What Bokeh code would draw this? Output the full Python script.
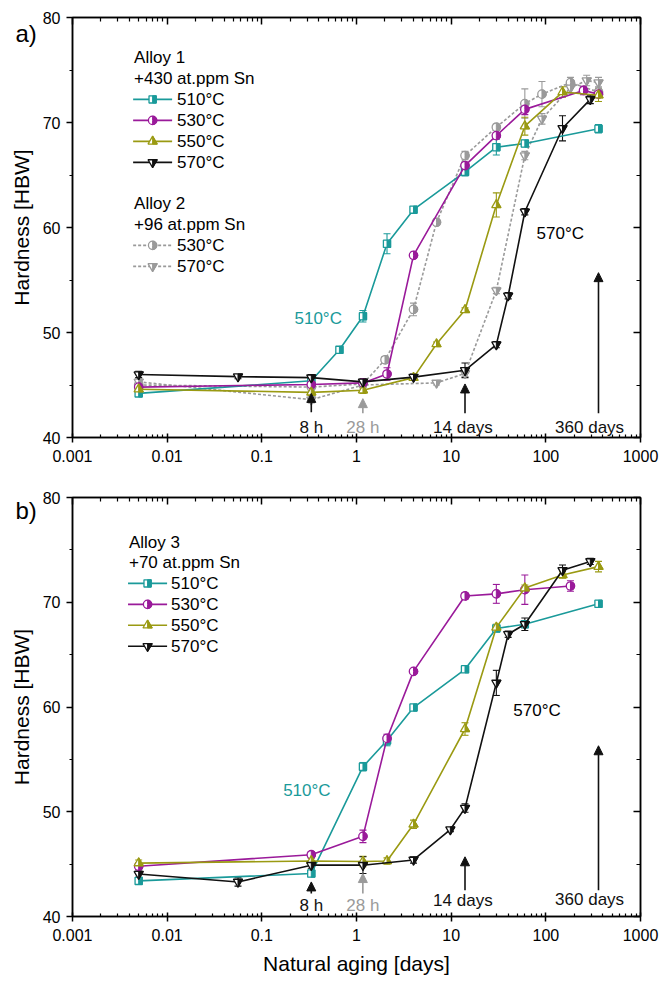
import math
from bokeh.plotting import figure
from bokeh.models import (LogAxis, LinearAxis, Label, Arrow, NormalHead, Whisker,
                          ColumnDataSource, FixedTicker, Range1d, TeeHead,
                          CustomJSTickFormatter)
from bokeh.layouts import column
from bokeh.embed import file_html
from bokeh.resources import INLINE

# ---------------- data (days, HBW, error) ----------------
# Panel a, Alloy 1 (+430 at.ppm Sn)
a_t510 = [0.005, 0.333, 0.66, 1.17, 2.1, 4, 14, 30, 60, 360]
a_h510 = [44.2, 45.4, 48.35, 51.55, 58.45, 61.7, 65.3, 67.65, 68.0, 69.4]
a_e510 = [0.3, 0.3, 0.2, 0.55, 0.95, 0.3, 0.4, 0.75, 0.3, 0.4]

a_t530 = [0.005, 0.333, 1.17, 2.1, 4, 14, 30, 60, 250, 360]
a_h530 = [44.8, 45.05, 45.2, 46.05, 57.35, 65.9, 68.75, 71.25, 73.05, 72.7]
a_e530 = [0.3, 0.3, 0.3, 0.6, 0.3, 0.3, 0.3, 0.5, 0.4, 0.3]

a_t550 = [0.005, 0.333, 1.17, 4, 7, 14, 30, 60, 150, 360]
a_h550 = [44.6, 44.3, 44.5, 45.7, 48.9, 52.15, 62.15, 69.65, 72.9, 72.6]
a_e550 = [0.3, 0.3, 0.3, 0.2, 0.2, 0.2, 1.15, 0.85, 0.5, 0.6]

a_t570 = [0.005, 0.056, 0.333, 1.17, 4, 14, 30, 40, 60, 150, 295]
a_h570 = [46.0, 45.8, 45.7, 45.3, 45.75, 46.4, 48.85, 53.5, 61.5, 69.45, 72.2]
a_e570 = [0.3, 0.2, 0.3, 0.3, 0.3, 0.7, 0.3, 0.3, 0.3, 1.2, 0.4]

# Panel a, Alloy 2 (+96 at.ppm Sn)
a2_t530 = [0.005, 0.333, 1.17, 2.0, 4, 7, 14, 30, 60, 91, 182, 360]
a2_h530 = [45.0, 44.8, 45.1, 47.4, 52.2, 60.5, 66.85, 69.55, 71.8, 72.7, 73.8, 72.9]
a2_e530 = [0.3, 0.3, 0.3, 0.3, 0.6, 0.3, 0.4, 0.3, 1.4, 1.2, 0.5, 0.5]

a2_t570 = [0.005, 0.333, 1.17, 7, 14, 30, 60, 91, 182, 270, 360]
a2_h570 = [45.3, 43.6, 45.0, 45.2, 46.1, 54.0, 66.85, 70.35, 73.3, 74.0, 73.8]
a2_e570 = [0.3, 0.3, 0.3, 0.2, 0.3, 0.3, 0.4, 0.5, 0.5, 0.5, 0.5]

# Panel b, Alloy 3 (+70 at.ppm Sn)
b_t510 = [0.005, 0.333, 1.17, 2.1, 4, 14, 30, 60, 360]
b_h510 = [43.4, 44.1, 54.3, 56.8, 59.95, 63.6, 67.5, 67.9, 69.85]
b_e510 = [0.2, 0.3, 0.4, 0.5, 0.2, 0.2, 0.3, 0.3, 0.2]

b_t530 = [0.005, 0.333, 1.17, 2.1, 4, 14, 30, 60, 182]
b_h530 = [44.8, 45.9, 47.65, 57.0, 63.4, 70.6, 70.8, 71.2, 71.55]
b_e530 = [0.3, 0.3, 0.6, 0.4, 0.2, 0.3, 0.9, 1.4, 0.5]

b_t550 = [0.005, 0.333, 1.17, 2.1, 4, 14, 30, 60, 150, 360]
b_h550 = [45.1, 45.3, 45.25, 45.3, 48.8, 57.9, 67.6, 71.35, 72.6, 73.4]
b_e550 = [0.3, 0.3, 0.5, 0.3, 0.4, 0.6, 0.3, 0.3, 0.3, 0.5]

b_t570 = [0.005, 0.056, 0.333, 1.17, 4, 9.8, 14, 30, 40, 60, 150, 295]
b_h570 = [44.05, 43.3, 44.9, 44.9, 45.4, 48.3, 50.35, 62.3, 66.95, 67.9, 73.05, 73.9]
b_e570 = [0.3, 0.4, 0.3, 0.8, 0.3, 0.2, 0.4, 1.2, 0.3, 0.6, 0.5, 0.3]

x_ticks = [0.001, 0.01, 0.1, 1, 10, 100, 1000]
y_ticks = [40, 50, 60, 70, 80]
y_minor = [45, 55, 65, 75]
temps = ["510°C", "530°C", "550°C", "570°C"]
arrow_days = [0.333, 1.167, 14, 360]
arrow_texts = ["8 h", "28 h", "14 days", "360 days"]

# ---------------- style ----------------
TEAL = "#1a9a9a"
PURPLE = "#9a1a9a"
OLIVE = "#9a9a12"
BLACK = "#111111"
GRAY = "#9a9a9a"
FONT = "Liberation Sans"

FIG_W = 662
B_LEFT, B_RIGHT = 72, 22
FRAME_W = FIG_W - B_LEFT - B_RIGHT
DEC_PX = FRAME_W / 6.0

x_minor = [m * 10 ** e for e in range(-3, 3) for m in range(2, 10)]


def make_panel(height, b_top, b_bottom, xlabel):
    p = figure(width=FIG_W, height=height, x_axis_type="log",
               x_range=Range1d(0.001, 1000), y_range=Range1d(40, 80),
               output_backend="svg", toolbar_location=None,
               min_border_left=B_LEFT, min_border_right=B_RIGHT,
               min_border_top=b_top, min_border_bottom=b_bottom)
    p.grid.visible = False
    p.outline_line_color = "black"
    p.outline_line_width = 1.5
    p.background_fill_color = "white"
    p.border_fill_color = "white"
    xt = FixedTicker(ticks=x_ticks, minor_ticks=x_minor)
    yt = FixedTicker(ticks=y_ticks, minor_ticks=y_minor)
    xa = p.xaxis[0]
    xa.ticker = xt
    xa.formatter = CustomJSTickFormatter(code="return String(tick)")
    xa.major_tick_in, xa.major_tick_out = 4, 5
    xa.minor_tick_in, xa.minor_tick_out = 3, 0
    xa.major_label_standoff = 7
    ya = p.yaxis[0]
    ya.ticker = yt
    ya.major_tick_in, ya.major_tick_out = 0, 6
    ya.minor_tick_in, ya.minor_tick_out = 0, 3
    ya.major_label_standoff = 6
    ya.axis_label = "Hardness [HBW]"
    ya.axis_label_standoff = 7
    for ax in (xa, ya):
        ax.axis_line_width = 1.5
        ax.major_tick_line_width = 1.5
        ax.minor_tick_line_width = 1.2
        ax.major_label_text_font = FONT
        ax.major_label_text_font_size = "16px"
        ax.major_label_text_color = "black"
        ax.axis_label_text_font = FONT
        ax.axis_label_text_font_size = "21px"
        ax.axis_label_text_font_style = "normal"
        ax.axis_label_text_color = "black"
    if xlabel:
        xa.axis_label = xlabel
        xa.axis_label_standoff = 8
    top = LogAxis(ticker=FixedTicker(ticks=x_ticks, minor_ticks=x_minor),
                  major_label_text_font_size="1px", major_label_text_alpha=0,
                  major_label_standoff=0,
                  major_tick_in=7, major_tick_out=0, minor_tick_in=4, minor_tick_out=0,
                  axis_line_width=1.5, major_tick_line_width=1.5, minor_tick_line_width=1.2)
    right = LinearAxis(ticker=FixedTicker(ticks=y_ticks, minor_ticks=y_minor),
                       major_label_text_font_size="1px", major_label_text_alpha=0,
                       major_label_standoff=0,
                       major_tick_in=7, major_tick_out=0, minor_tick_in=4, minor_tick_out=0,
                       axis_line_width=1.5, major_tick_line_width=1.5, minor_tick_line_width=1.2)
    p.add_layout(top, "above")
    p.add_layout(right, "right")
    return p


def shape_pts(shape, r):
    if shape == "square":
        full = [(-r, -r), (r, -r), (r, r), (-r, r)]
        half = [(0, -r), (r, -r), (r, r), (0, r)]
    elif shape == "tri_up":
        a, b = 1.15 * r, -0.58 * r
        full = [(0, a), (r, b), (-r, b)]
        half = [(0, a), (r, b), (0, b)]
    else:  # tri_down
        a, b = -1.15 * r, 0.58 * r
        full = [(0, a), (r, b), (-r, b)]
        half = [(0, a), (r, b), (0, b)]
    return full, half


def draw_markers(p, xs, ys, shape, color, unit_px):
    if shape == "circle":
        r = 4.2
        p.scatter(xs, ys, marker="circle", size=2 * r, fill_color="white",
                  line_color=color, line_width=1.3)
        p.wedge(xs, ys, radius=r, radius_units="screen", start_angle=-math.pi / 2,
                end_angle=math.pi / 2, fill_color=color, line_color=color, line_width=1)
        return
    r = {"square": 3.6, "tri_up": 4.6, "tri_down": 4.6}[shape]
    full, half = shape_pts(shape, r)

    def build(pts):
        bx, by = [], []
        for x, y in zip(xs, ys):
            bx.append([x * 10 ** (dx / DEC_PX) for dx, dy in pts])
            by.append([y + dy / unit_px for dx, dy in pts])
        return bx, by
    fx, fy = build(full)
    hx, hy = build(half)
    p.patches(fx, fy, fill_color="white", line_color=color, line_width=1.3)
    p.patches(hx, hy, fill_color=color, line_color=color, line_width=1)


def draw_series(p, t, h, e, color, shape, unit_px, dash="solid"):
    p.line(t, h, line_color=color, line_width=1.6, line_dash=dash)
    src = ColumnDataSource(dict(x=t, up=[a + b for a, b in zip(h, e)],
                                lo=[a - b for a, b in zip(h, e)]))
    p.add_layout(Whisker(source=src, base="x", upper="up", lower="lo",
                         line_color=color, line_width=1.1,
                         upper_head=TeeHead(size=7, line_color=color, line_width=1.1),
                         lower_head=TeeHead(size=7, line_color=color, line_width=1.1)))
    draw_markers(p, t, h, shape, color, unit_px)


def text(p, x, y, s, color="black", size="17px", align="left", baseline="middle"):
    p.add_layout(Label(x=x, y=y, text=s, text_color=color, text_font=FONT,
                       text_font_size=size, text_align=align, text_baseline=baseline))


def panel_tag(p, s):
    # placed in a side panel so that it is not clipped to the plot frame
    p.add_layout(Label(x=15, y=33, x_units="canvas", y_units="canvas", text=s,
                       text_color="black", text_font=FONT, text_font_size="24px",
                       text_align="left", text_baseline="alphabetic"), "right")


def legend_entry(p, y, s, color, shape, unit_px, xl0, xl1, xm, xt, dash="solid"):
    p.line([xl0, xl1], [y, y], line_color=color, line_width=1.6, line_dash=dash)
    draw_markers(p, [xm], [y], shape, color, unit_px)
    text(p, xt, y, s)


def arrow(p, x, y0, y1, color):
    p.add_layout(Arrow(end=NormalHead(size=9, fill_color=color, line_color=color),
                       x_start=x, y_start=y0, x_end=x, y_end=y1,
                       line_color=color, line_width=1.6))


shapes = ["square", "circle", "tri_up", "tri_down"]
colors = [TEAL, PURPLE, OLIVE, BLACK]

# ---------------- panel a ----------------
UA = 420 / 40.0
pa = make_panel(477, 17, 40, None)
draw_series(pa, a2_t530, a2_h530, a2_e530, GRAY, "circle", UA, dash="3 2")
draw_series(pa, a2_t570, a2_h570, a2_e570, GRAY, "tri_down", UA, dash="3 2")
for t, h, e, c, s in zip([a_t510, a_t530, a_t550, a_t570], [a_h510, a_h530, a_h550, a_h570],
                         [a_e510, a_e530, a_e550, a_e570], colors, shapes):
    draw_series(pa, t, h, e, c, s, UA)

text(pa, 0.00447, 76.2, "Alloy 1")
text(pa, 0.00447, 74.2, "+430 at.ppm Sn")
for i, (c, s, lab) in enumerate(zip(colors, shapes, temps)):
    legend_entry(pa, 72.2 - 2 * i, lab, c, s, UA, 0.00437, 0.01128, 0.00702, 0.01274)
text(pa, 0.00447, 62.3, "Alloy 2")
text(pa, 0.00447, 60.3, "+96 at.ppm Sn")
legend_entry(pa, 58.3, temps[1], GRAY, "circle", UA, 0.00437, 0.01128, 0.00702, 0.01274, dash="3 2")
legend_entry(pa, 56.3, temps[3], GRAY, "tri_down", UA, 0.00437, 0.01128, 0.00702, 0.01274, dash="3 2")

text(pa, 0.394, 51.3, "510°C", color=TEAL, align="center")
text(pa, 142, 59.4, "570°C", align="center")

a_arrow_y = [(42.4, 44.2), (42.3, 43.7), (42.3, 45.1), (42.3, 55.7)]
a_text_x = [0.333, 1.167, 13.3, 290]
for x, (y0, y1), tx, s in zip(arrow_days, a_arrow_y, a_text_x, arrow_texts):
    c = GRAY if s == "28 h" else BLACK
    arrow(pa, x, y0, y1, c)
    text(pa, tx, 41.0, s, color=c, align="center")
panel_tag(pa, "a)")

# ---------------- panel b ----------------
UB = 419 / 40.0
pb = make_panel(504, 20, 65, "Natural aging [days]")
for t, h, e, c, s in zip([b_t510, b_t530, b_t550, b_t570], [b_h510, b_h530, b_h550, b_h570],
                         [b_e510, b_e530, b_e550, b_e570], colors, shapes):
    draw_series(pb, t, h, e, c, s, UB)

text(pb, 0.00395, 75.75, "Alloy 3")
text(pb, 0.00395, 73.8, "+70 at.ppm Sn")
for i, (c, s, lab) in enumerate(zip(colors, shapes, temps)):
    legend_entry(pb, 71.8 - 2 * i, lab, c, s, UB, 0.00386, 0.00998, 0.00621, 0.0110)

text(pb, 0.299, 52.0, "510°C", color=TEAL, align="center")
text(pb, 80.7, 59.7, "570°C", align="center")

b_arrow_y = [(42.2, 43.3), (42.2, 44.1), (42.5, 45.7), (42.5, 56.3)]
b_text_y = [41.05, 41.05, 41.5, 41.6]
for x, (y0, y1), tx, ty, s in zip(arrow_days, b_arrow_y, a_text_x, b_text_y, arrow_texts):
    c = GRAY if s == "28 h" else BLACK
    arrow(pb, x, y0, y1, c)
    text(pb, tx, ty, s, color=c, align="center")
panel_tag(pb, "b)")

layout = column(pa, pb, spacing=0)
open("out.html", "w").write(file_html(layout, INLINE))
